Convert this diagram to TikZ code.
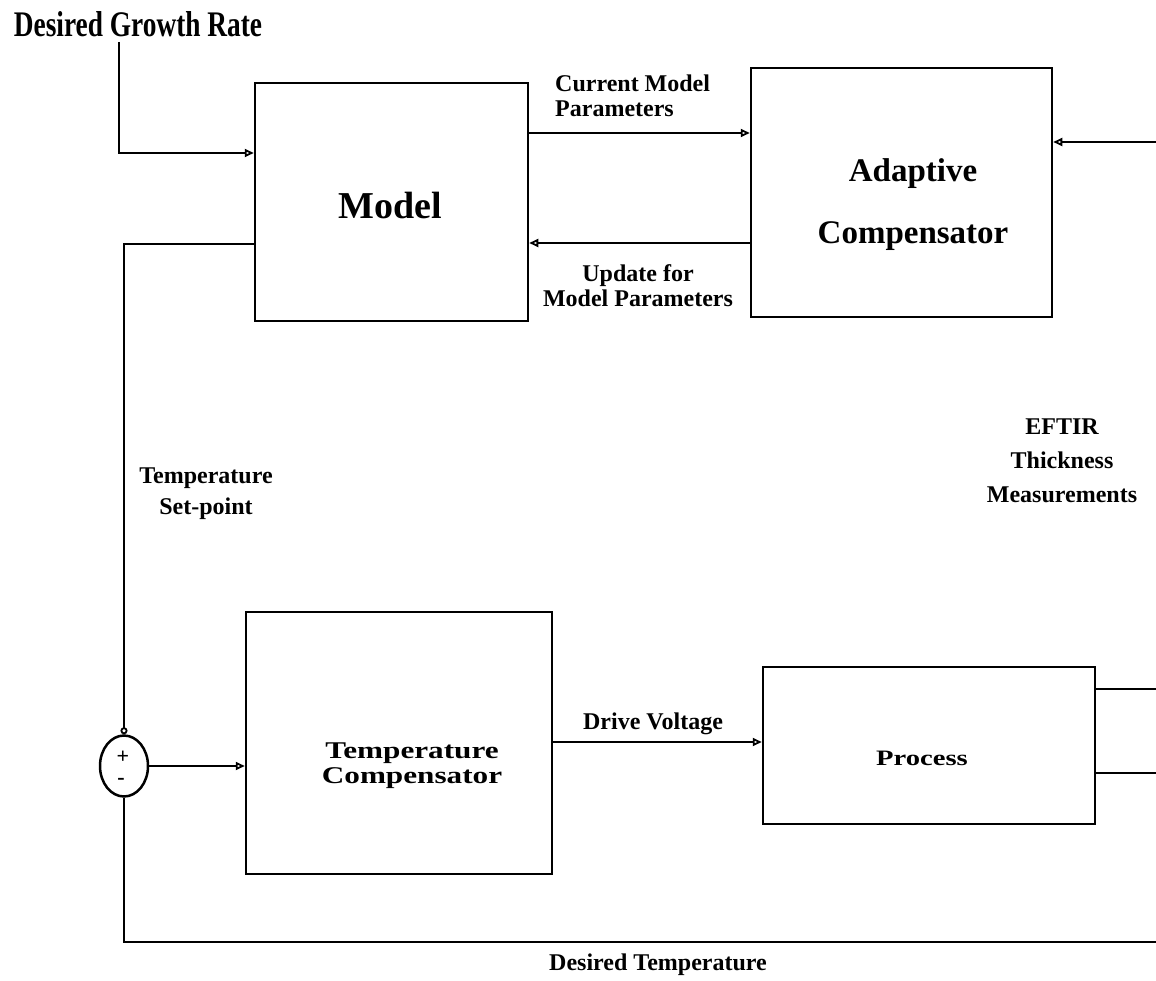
\documentclass[tikz,border=0pt]{standalone}
\usepackage{fontspec}
\setmainfont{Liberation Serif}
\newfontfamily\condfont{Liberation Serif}[FakeStretch=0.76]
\newfontfamily\widefont{Liberation Serif}[FakeStretch=1.3]
\usetikzlibrary{arrows.meta,shapes.geometric}
\tikzset{
  blk/.style={draw, line width=2.5pt, rectangle, inner sep=0pt, font=\bfseries},
  lbl/.style={font=\fontsize{24}{25}\selectfont\bfseries, align=center, inner sep=0pt},
  wire/.style={line width=2.5pt},
  arr/.style={line width=2.5pt, -{Triangle[open, length=9pt, width=8pt, line width=1.8pt]}},
  circarr/.style={line width=2.5pt, -{Circle[open, length=7pt, line width=1.8pt]}},
}
\begin{document}
\begin{tikzpicture}[x=1pt, y=-1pt]
\useasboundingbox (0,0) rectangle (1156,981);
% blocks
\node[blk, minimum width=273pt, minimum height=238pt] (model) at (391.5,202) {};
\node[font=\fontsize{38}{40}\selectfont\bfseries, inner sep=0pt] (tmodel) at (390,206) {Model};
\node[blk, minimum width=301pt, minimum height=249pt] (adapt) at (901.5,192.5) {};
\node[font=\fontsize{33}{62}\selectfont\bfseries, align=center, inner sep=0pt] (tadapt) at (913,205) {Adaptive\\Compensator};
\node[blk, minimum width=306pt, minimum height=262pt] (tc) at (399,743) {};
\node[font=\widefont\fontsize{24}{25}\selectfont\bfseries, align=center, inner sep=0pt] (ttc) at (412,766) {Temperature\\Compensator};
\node[blk, minimum width=332pt, minimum height=157pt] (proc) at (929,745.5) {};
\node[font=\widefont\fontsize{22}{25}\selectfont\bfseries, inner sep=0pt] (tproc) at (922,758) {Process};
\node[draw, line width=2.5pt, ellipse, minimum width=48pt, minimum height=61pt, inner sep=0pt] (sum) at (124,766) {};
\node[font=\fontsize{22}{22}\selectfont\bfseries, inner sep=0pt] (plus) at (123,757) {+};
\node[font=\fontsize{22}{22}\selectfont\bfseries, inner sep=0pt] (minus) at (121,781) {-};
% free ends
\coordinate (gin) at (119,42);
\coordinate (ein) at (1156,142);
\coordinate (out1) at (1156,689);
\coordinate (out2) at (1156,773);
\coordinate (fb) at (1156,942);
% labels
\node[font=\condfont\fontsize{36}{36}\selectfont\bfseries, inner sep=0pt] (lgr) at (138,24) {Desired Growth Rate};
\node[lbl, align=left, anchor=west] (lcmp) at (555,96) {Current Model\\Parameters};
\node[lbl] (lupd) at (638,286) {Update for\\Model Parameters};
\node[lbl] (ldv) at (653,724) {Drive Voltage};
\node[lbl, font=\fontsize{24}{31}\selectfont\bfseries] (lts) at (206,494) {Temperature\\Set-point};
\node[lbl, font=\fontsize{24}{34}\selectfont\bfseries] (leftir) at (1062,461) {EFTIR\\Thickness\\Measurements};
\node[lbl] (ldt) at (658,965) {Desired Temperature};
% connectors
\draw[arr] (gin) |- (model.west |- 0,153);
\draw[arr] (model.east |- 0,133) -- (adapt.west |- 0,133);
\draw[arr] (adapt.west |- 0,243) -- (model.east |- 0,243);
\draw[arr] (ein) -- (adapt.east |- ein);
\draw[circarr] (model.west |- 0,244) -| (sum.north);
\draw[arr] (sum.east) -- (tc.west |- sum.east);
\draw[arr] (tc.east |- 0,742) -- (proc.west |- 0,742);
\draw[wire] (proc.east |- out1) -- (out1);
\draw[wire] (proc.east |- out2) -- (out2);
\draw[wire] (sum.south) |- (fb);
\end{tikzpicture}
\end{document}
